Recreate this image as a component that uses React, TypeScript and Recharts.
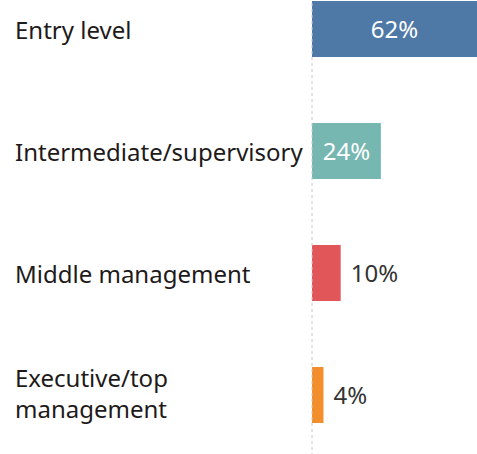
import { BarChart, Bar, XAxis, YAxis, Cell, LabelList, ReferenceLine } from "recharts";

const categories = [
  "Entry level",
  "Intermediate/supervisory",
  "Middle management",
  "Executive/top management",
];
const shares = [62, 24, 10, 4];
const colors = ["#4e79a7", "#76b7b2", "#e15759", "#f28e2b"];

const data = categories.map((name, i) => ({ name, value: shares[i] }));

const FONT = "'Noto Sans', sans-serif";
const CHART_W = 477;

// wrap at spaces once a line gets past ~20 chars
function wrap(text: string) {
  const words = text.split(" ");
  const lines: string[] = [];
  let cur = "";
  for (const w of words) {
    if (cur && (cur + " " + w).length > 20) {
      lines.push(cur);
      cur = w;
    } else {
      cur = cur ? cur + " " + w : w;
    }
  }
  if (cur) lines.push(cur);
  return lines;
}

const CategoryTick = (props: any) => {
  const { y, payload } = props;
  const lines = wrap(payload.value);
  const n = lines.length;
  return (
    <g>
      {lines.map((line, i) => (
        <text
          key={i}
          x={15}
          y={y + 10 + (i - (n - 1) / 2) * 31 - (n > 1 ? 2.5 : 0)}
          textAnchor="start"
          fontFamily={FONT}
          fontSize={24}
          fill="#1e1a1a"
        >
          {line}
        </text>
      ))}
    </g>
  );
};

const ValueLabel = (props: any) => {
  const { x, y, width, height, value } = props;
  const inside = value >= 20;
  const visW = Math.min(width, CHART_W - x);
  const tx = inside ? x + visW / 2 : x + width + 10;
  return (
    <text
      x={tx}
      y={y + height / 2 + 8.5}
      textAnchor={inside ? "middle" : "start"}
      fontFamily={FONT}
      fontSize={24}
      fill={inside ? "#ffffff" : "#333333"}
    >
      {value}%
    </text>
  );
};

export default function App() {
  return (
    <div style={{ position: "absolute", top: -32, left: 0 }}>
      <BarChart
        width={CHART_W}
        height={488}
        data={data}
        layout="vertical"
        margin={{ top: 0, right: 0, bottom: 0, left: 0 }}
        barCategoryGap={0}
      >
        <XAxis type="number" domain={[0, 57.5]} allowDataOverflow hide />
        <YAxis
          type="category"
          dataKey="name"
          width={312}
          axisLine={false}
          tickLine={false}
          tick={<CategoryTick />}
          interval={0}
        />
        <ReferenceLine x={0} stroke="#c8c8c8" strokeDasharray="3 3" />
        <Bar dataKey="value" barSize={56} isAnimationActive={false}>
          {data.map((d, i) => (
            <Cell key={d.name} fill={colors[i]} />
          ))}
          <LabelList dataKey="value" content={<ValueLabel />} />
        </Bar>
      </BarChart>
    </div>
  );
}
